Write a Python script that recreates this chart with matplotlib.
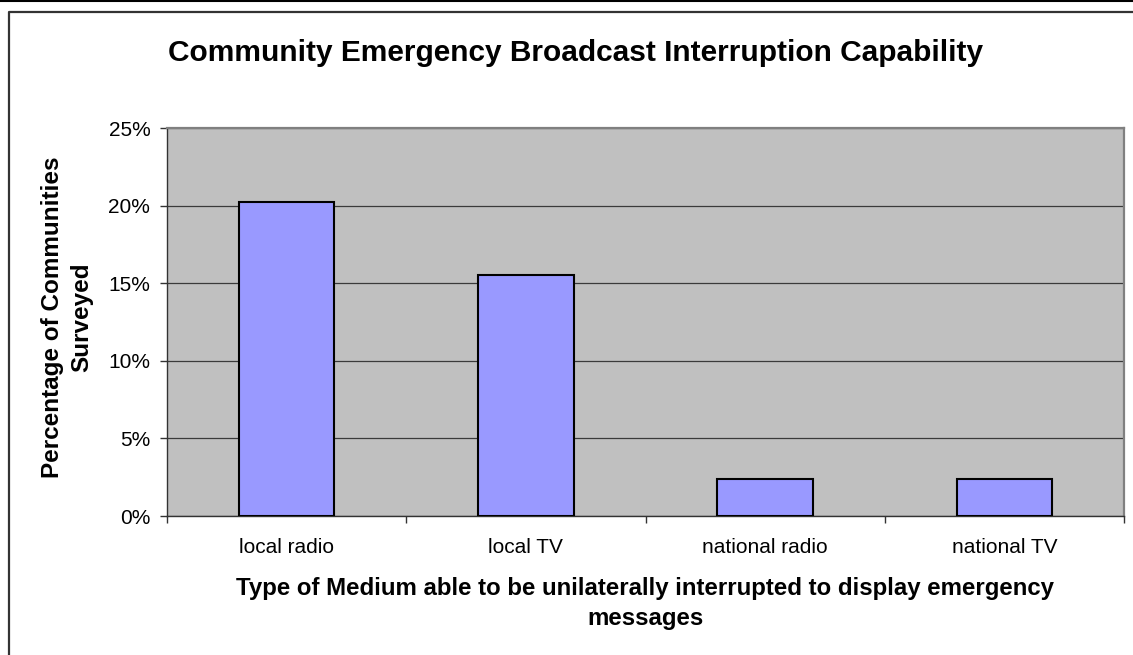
import numpy as np
import matplotlib.pyplot as plt
from matplotlib.lines import Line2D
from matplotlib.ticker import PercentFormatter

plt.rcParams['font.family'] = ['Liberation Sans', 'DejaVu Sans']

# medium types and share of communities surveyed
media = ['local radio', 'local TV', 'national radio', 'national TV']
share = [0.202, 0.155, 0.024, 0.024]
y_ticks = [0, 0.05, 0.10, 0.15, 0.20, 0.25]

fig = plt.figure(figsize=(11.33, 6.55), dpi=100)
ax = fig.add_axes([167 / 1133, 1 - 516 / 655, 957 / 1133, 388 / 655])

x = np.arange(len(media))
ax.set_facecolor('#C0C0C0')
ax.bar(x, share, width=0.40, color='#9999FF', edgecolor='black', linewidth=1.5, zorder=3)

ax.set_xlim(-0.5, len(media) - 0.5)
ax.set_ylim(0, 0.25)
ax.set_yticks(y_ticks)
ax.yaxis.set_major_formatter(PercentFormatter(1.0, decimals=0))
ax.grid(axis='y', color='#3a3a3a', linewidth=0.9, zorder=1)

# category labels in the middle, tick marks on the boundaries
ax.set_xticks(x)
ax.set_xticklabels(media)
ax.set_xticks(np.arange(len(media) + 1) - 0.5, minor=True)
ax.tick_params(axis='x', which='major', length=0, pad=16, labelsize=15)
ax.tick_params(axis='x', which='minor', length=5, width=1, color='#333333')
ax.tick_params(axis='y', length=5, width=1, color='#333333', pad=7, labelsize=15)

for side in ['top', 'right']:
    ax.spines[side].set_color('#808080')
    ax.spines[side].set_linewidth(1.6)
for side in ['left', 'bottom']:
    ax.spines[side].set_color('#333333')
    ax.spines[side].set_linewidth(1.0)

fig.text(576 / 1133, 1 - 53 / 655, 'Community Emergency Broadcast Interruption Capability',
         ha='center', va='center', fontsize=21.5, fontweight='bold')

ax.set_ylabel('Percentage of Communities\nSurveyed', fontsize=17.5, fontweight='bold',
              multialignment='center', linespacing=1.35)
ax.yaxis.set_label_coords(-0.104, 0.513)
ax.yaxis.label.set_va('center')

ax.set_xlabel('Type of Medium able to be unilaterally interrupted to display emergency\nmessages',
              fontsize=17.3, fontweight='bold', multialignment='center', linespacing=1.35)
ax.xaxis.set_label_coords(0.5, -0.2255)
ax.xaxis.label.set_va('center')

# outer chart frame
fig.add_artist(Line2D([0, 1], [1 - 0.5 / 655, 1 - 0.5 / 655], color='black', linewidth=1.5))
fig.add_artist(Line2D([8.5 / 1133, 8.5 / 1133, 1], [0, 1 - 11.5 / 655, 1 - 11.5 / 655],
                      color='#333333', linewidth=1.6))

fig.savefig('out.png', dpi=100)
